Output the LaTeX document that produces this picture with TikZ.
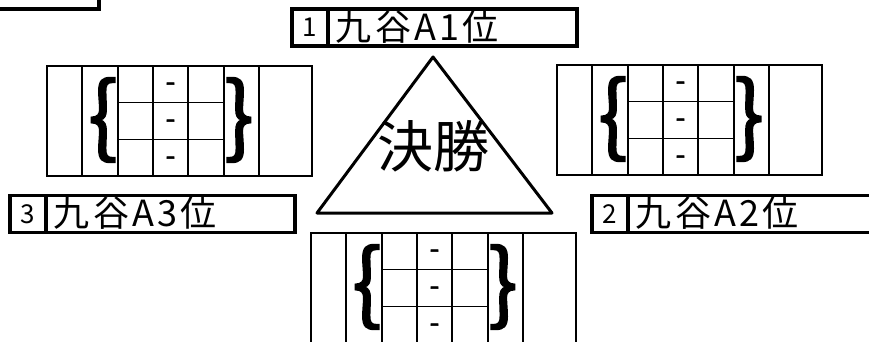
\documentclass[tikz,border=0pt]{standalone}
\usepackage{fontspec}
\usepackage{graphicx}
\newfontfamily\jp{Noto Sans CJK JP}
\newfontfamily\jpnome[LetterSpace=9]{Noto Sans CJK JP}
\newfontfamily\jpgraffa[FakeBold=2]{Noto Sans CJK JP}
\usetikzlibrary{positioning}

\tikzset{
  etichetta/.style={rectangle, draw, line width=3.2pt, minimum width=285pt, minimum height=37pt, inner sep=0pt},
  numero/.style={rectangle, draw, line width=3.2pt, minimum width=36pt, minimum height=37pt, inner sep=0pt, font=\jp\fontsize{26}{26}\selectfont},
  nome/.style={inner sep=0pt, font=\jpnome\fontsize{36}{36}\selectfont},
  griglia/.style={line width=1.2pt},
  graffa/.style={inner sep=0pt, font=\jpgraffa\fontsize{88}{88}\selectfont},
  trattino/.style={inner sep=0pt, font=\jpgraffa\fontsize{28}{28}\selectfont}
}

\begin{document}
\begin{tikzpicture}[x=1pt, y=-1pt]
\useasboundingbox (0,0) rectangle (869,342);

% Riquadro in alto a sinistra
\coordinate (angolo) at (99,9);
\draw[line width=3.2pt] (-5,9) -- (angolo) -- (99,-5);

% Tabelle
\foreach \ox/\oy/\nm in {47/66/sx, 557/65/dx, 311/233/sotto} {
  \begin{scope}[shift={(\ox,\oy)}]
    \draw[griglia] (0,0) rectangle (265,110);
    \foreach \c in {35,71,106,141,177,212}
      \draw[griglia] (\c,0) -- (\c,110);
    \foreach \r in {36.7,73.3}
      \draw[griglia] (71,\r) -- (177,\r);
    \node[graffa, anchor=east] (ga-\nm) at (71,54) {\{};
    \node[graffa, anchor=west] (gc-\nm) at (177,54) {\}};
    \node[trattino] (t1-\nm) at (123.5,21) {-};
    \node[trattino] (t2-\nm) at (123.5,58) {-};
    \node[trattino] (t3-\nm) at (123.5,95) {-};
  \end{scope}
}

% Finale
\coordinate (apice) at (433,57);
\coordinate (bsx) at (317,213);
\coordinate (bdx) at (552,213);
\draw[line width=3pt, line join=round] (apice) -- (bdx) -- (bsx) -- cycle;
\node[inner sep=0pt, font=\jp\fontsize{56}{56}\selectfont] (finale) at (433,146) {決勝};

% Primo
\node[etichetta] (primo) at (434.5,27.5) {};
\node[numero, anchor=west] (n1) at (primo.west) {1};
\node[nome, right=6pt of n1, yshift=1pt] {九谷A1位};

% Terzo
\node[etichetta] (terzo) at (152.5,214) {};
\node[numero, anchor=west] (n3) at (terzo.west) {3};
\node[nome, right=6pt of n3, yshift=1pt] {九谷A3位};

% Secondo
\node[etichetta] (secondo) at (734.5,214) {};
\node[numero, anchor=west] (n2) at (secondo.west) {2};
\node[nome, right=6pt of n2, yshift=1pt] {九谷A2位};
\end{tikzpicture}
\end{document}
